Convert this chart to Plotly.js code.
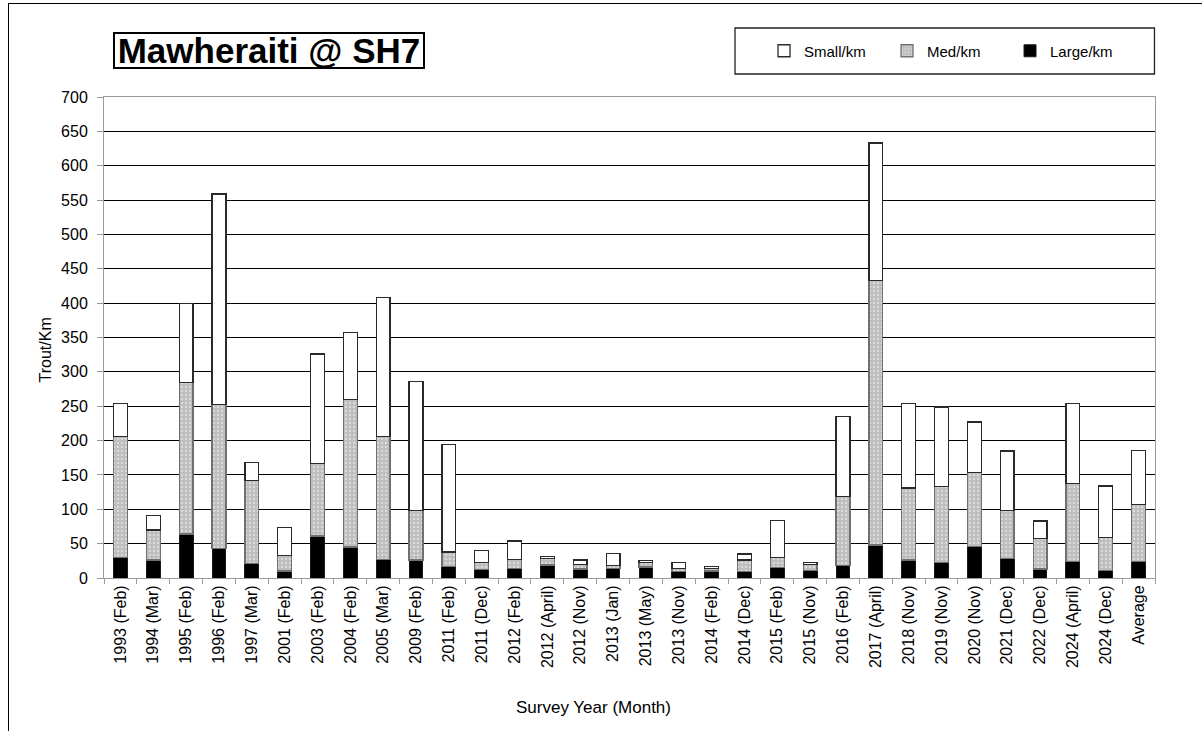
<!DOCTYPE html>
<html>
<head>
<meta charset="utf-8">
<script src="https://cdn.plot.ly/plotly-3.0.1.min.js"></script>
<style>
  html, body { margin: 0; padding: 0; background: #fff; overflow: hidden; }
  #frame { position: absolute; left: 8px; top: 3px; width: 1300px; height: 800px; border: 1px solid #000; box-sizing: border-box; }
  #chart { position: absolute; left: 0; top: 0; width: 1202px; height: 731px; }
</style>
</head>
<body>
<div id="frame"></div>
<div id="chart"></div>
<script>
const categories = [
  "1993 (Feb)", "1994 (Mar)", "1995 (Feb)", "1996 (Feb)", "1997 (Mar)", "2001 (Feb)",
  "2003 (Feb)", "2004 (Feb)", "2005 (Mar)", "2009 (Feb)", "2011 (Feb)", "2011 (Dec)",
  "2012 (Feb)", "2012 (April)", "2012 (Nov)", "2013 (Jan)", "2013 (May)", "2013 (Nov)",
  "2014 (Feb)", "2014 (Dec)", "2015 (Feb)", "2015 (Nov)", "2016 (Feb)", "2017 (April)",
  "2018 (Nov)", "2019 (Nov)", "2020 (Nov)", "2021 (Dec)", "2022 (Dec)", "2024 (April)",
  "2024 (Dec)", "Average"
];
const largeKm = [30, 26, 64, 43, 21, 10, 61, 45, 27, 26, 17, 12, 14, 19, 13, 14, 16, 9, 10, 9, 15, 11, 18, 48, 26, 23, 46, 28, 13, 24, 11, 24];
const medKm   = [176, 44, 221, 209, 121, 23, 106, 215, 179, 72, 21, 11, 13, 9, 7, 4, 7, 5, 4, 17, 15, 9, 101, 385, 105, 110, 108, 70, 45, 114, 48, 83];
const smallKm = [48, 21, 114, 307, 26, 40, 159, 97, 202, 188, 156, 17, 27, 3, 6, 18, 2, 9, 3, 9, 54, 3, 116, 200, 123, 116, 73, 87, 25, 116, 75, 79];
const yTicks = [0, 50, 100, 150, 200, 250, 300, 350, 400, 450, 500, 550, 600, 650, 700];

const FONT = '"Liberation Sans", Arial, sans-serif';

const traces = [
  { type: 'bar', name: 'Large/km', x: categories, y: largeKm,
    marker: { color: '#000000', line: { color: '#1a1a1a', width: 1 } } },
  { type: 'bar', name: 'Med/km', x: categories, y: medKm,
    marker: { color: '#c0c0c0', line: { color: '#707070', width: 1.3 },
      pattern: { shape: '.', bgcolor: '#bdbdbd', fgcolor: '#dadada', size: 4, solidity: 0.3 } } },
  { type: 'bar', name: 'Small/km', x: categories, y: smallKm,
    marker: { color: '#ffffff', line: { color: '#2a2a2a', width: 1.3 } } }
];

const layout = {
  width: 1202, height: 731,
  margin: { l: 104, r: 47, t: 97, b: 153, autoexpand: false },
  paper_bgcolor: 'rgba(0,0,0,0)',
  plot_bgcolor: '#ffffff',
  barmode: 'stack',
  bargap: 0.58,
  font: { family: FONT, color: '#000', size: 16 },
  showlegend: true,
  legend: {
    orientation: 'h', traceorder: 'reversed',
    x: 0.628, xanchor: 'left', y: 1.0956, yanchor: 'middle',
    font: { family: FONT, size: 15, color: '#000' },
    bgcolor: 'rgba(0,0,0,0)', borderwidth: 0,
    entrywidth: 78, entrywidthmode: 'pixels',
    itemwidth: 30
  },
  xaxis: {
    type: 'category',
    tickangle: -90,
    tickfont: { family: FONT, size: 16 },
    showline: true, linecolor: '#9a9a9a', linewidth: 1,
    mirror: true,
    ticks: 'outside', tickson: 'boundaries', ticklen: 5, tickcolor: '#9a9a9a',
    showgrid: false,
    automargin: false
  },
  yaxis: {
    range: [0, 700],
    tickvals: yTicks,
    ticktext: yTicks.map(String),
    tickfont: { family: FONT, size: 16 },
    ticklabelstandoff: 6,
    showline: true, linecolor: '#9a9a9a', linewidth: 1,
    mirror: true,
    ticks: 'outside', ticklen: 6, tickcolor: '#9a9a9a',
    showgrid: true, gridcolor: '#000000', gridwidth: 1,
    zeroline: false,
    automargin: false
  },
  shapes: [
    { type: 'rect', xref: 'paper', yref: 'paper',
      x0: 0.6004, x1: 0.9995, y0: 1.0478, y1: 1.1435,
      line: { color: '#222', width: 1.3 }, fillcolor: 'rgba(0,0,0,0)' }
  ],
  annotations: [
    { xref: 'paper', yref: 'paper', x: 0.00856, y: 1.1351, xanchor: 'left', yanchor: 'top',
      text: '<b>Mawheraiti @ SH7</b>', showarrow: false,
      font: { family: FONT, size: 35, color: '#000' },
      width: 308, height: 33, align: 'center', valign: 'middle',
      bordercolor: '#000', borderwidth: 2, borderpad: 0, bgcolor: '#fff' },
    { xref: 'paper', yref: 'paper', x: 0.4653, y: -0.270, xanchor: 'center', yanchor: 'middle',
      text: 'Survey Year (Month)', showarrow: false,
      font: { family: FONT, size: 17, color: '#000' } },
    { xref: 'paper', yref: 'paper', x: -0.0557, y: 0.474, xanchor: 'center', yanchor: 'middle',
      text: 'Trout/Km', textangle: -90, showarrow: false,
      font: { family: FONT, size: 16, color: '#000' } }
  ]
};

Plotly.newPlot('chart', traces, layout, { displayModeBar: false, staticPlot: true });
</script>
</body>
</html>
